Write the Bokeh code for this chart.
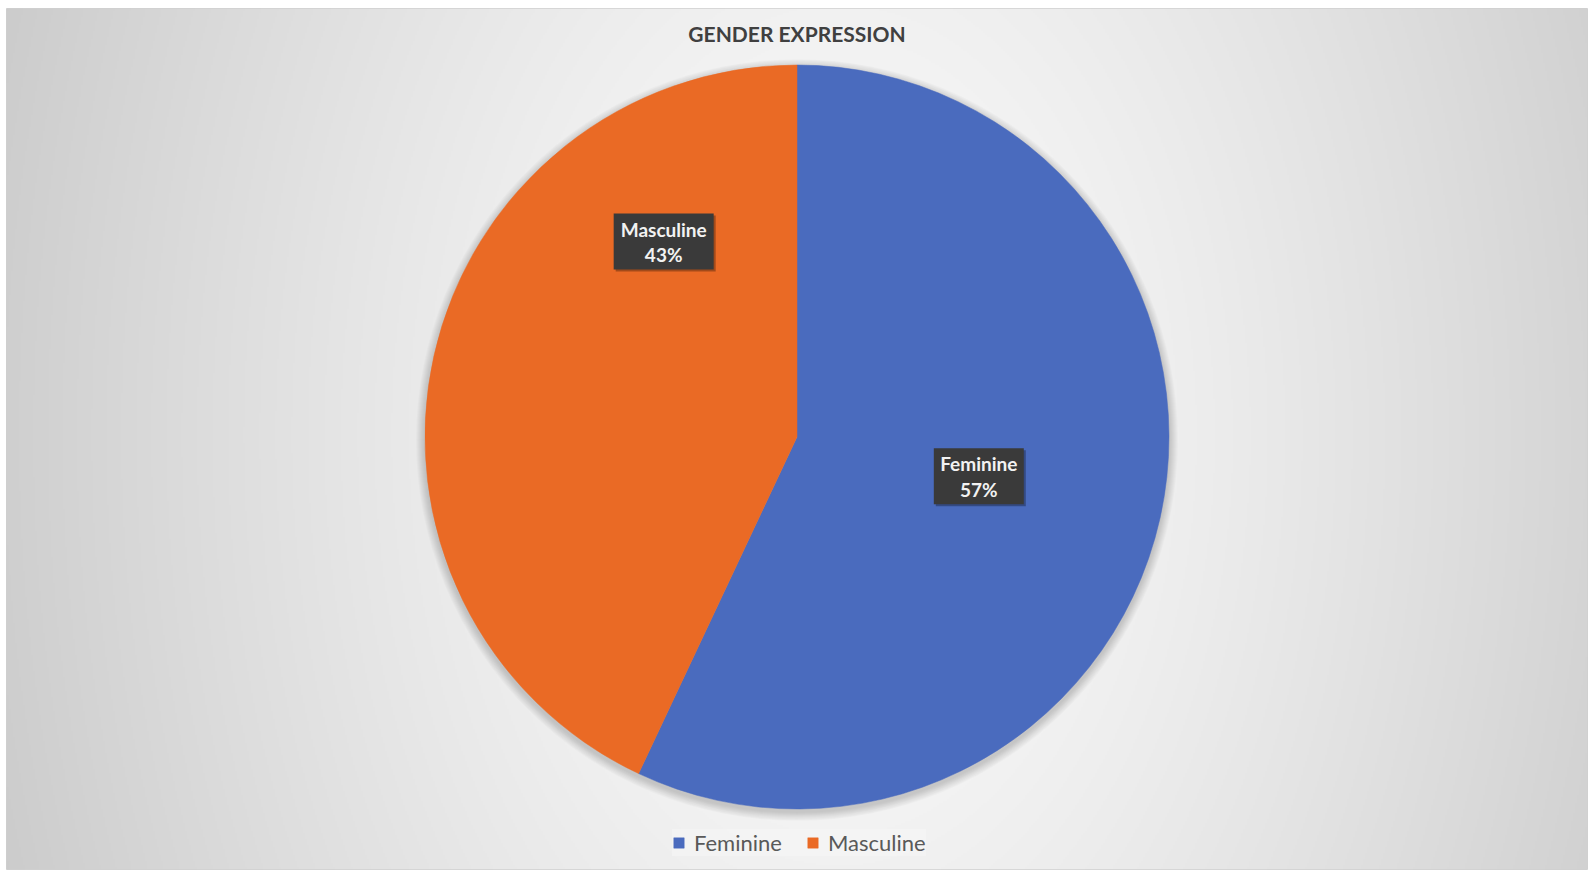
import numpy as np
from bokeh.plotting import figure
from bokeh.models import Range1d, ColumnDataSource, Legend, LegendItem
from bokeh.core.properties import value
from bokeh.embed import file_html
from bokeh.resources import INLINE

# ---------------- data ----------------
title_text = "GENDER EXPRESSION"
categories = ["Feminine", "Masculine"]
percent = [57, 43]
colors = ["#4A6BBE", "#EA6A25"]

# ---------------- layout (pixels) ----------------
FIG_W, FIG_H = 1592, 876
B_LEFT, B_RIGHT, B_TOP, B_BOTTOM = 6, 5, 8, 7
W = FIG_W - B_LEFT - B_RIGHT
H = FIG_H - B_TOP - B_BOTTOM
CX, CY, R = 790.5, 432.5, 372
# label placement: (clockwise angle from top in degrees, fraction of radius)
label_place = [(102.2, 0.50), (325.7, 0.636)]
FONT = "Lato"

p = figure(width=FIG_W, height=FIG_H, output_backend="svg", toolbar_location=None,
           x_range=Range1d(0, W), y_range=Range1d(0, H),
           min_border_left=B_LEFT, min_border_right=B_RIGHT,
           min_border_top=B_TOP, min_border_bottom=B_BOTTOM,
           outline_line_color="#d0d0d0")
p.axis.visible = False
p.grid.visible = False
p.background_fill_color = "#ececec"
p.border_fill_color = "white"

# radial background gradient
gh, gw = H // 2, W // 2
yy, xx = np.mgrid[0:gh, 0:gw]
gx = (xx * 2 - (CX + 40)) / (W / 2)
gy = (yy * 2 - CY) / (H * 1.4)
rr = np.sqrt(gx ** 2 + gy ** 2)
lev = np.clip(252 - 42 * rr ** 1.3, 0, 255).astype(np.uint32)
img = (255 << 24) | (lev << 16) | (lev << 8) | lev
p.image_rgba(image=[img.astype(np.uint32)], x=0, y=0, dw=W, dh=H)

# soft shadow around the pie
for k in range(1, 10):
    p.circle(x=CX, y=CY - 3, radius=R + k, fill_color="black", fill_alpha=0.02,
             line_color=None)

# wedges from data
total = float(sum(percent))
frac = [v / total for v in percent]
cum = np.concatenate([[0.0], np.cumsum(frac)])
start = [np.pi / 2 - 2 * np.pi * cum[i] for i in range(len(frac))]
end = [np.pi / 2 - 2 * np.pi * cum[i + 1] for i in range(len(frac))]
src = ColumnDataSource(dict(cat=categories, start=start, end=end, color=colors))
wr = p.wedge(x=CX, y=CY, radius=R, start_angle="start", end_angle="end",
             direction="clock", fill_color="color", line_color="color",
             line_width=0.5, source=src)

# data labels
lx, ly, bw, pct_txt = [], [], [], []
for (ang, f), c, v in zip(label_place, categories, percent):
    a = np.deg2rad(ang)
    lx.append(CX + f * R * np.sin(a))
    ly.append(CY + f * R * np.cos(a))
    bw.append(10 * len(c) + 10)
    pct_txt.append(f"{v}%")
lsrc = ColumnDataSource(dict(x=lx, y=ly, w=bw, name=categories, pct=pct_txt,
                             y1=[v + 12.5 for v in ly], y2=[v - 13 for v in ly],
                             xs=[v + 2 for v in lx], ys=[v - 2 for v in ly]))
p.rect(x="xs", y="ys", width="w", height=56, fill_color="black", fill_alpha=0.3,
       line_color=None, source=lsrc)
p.rect(x="x", y="y", width="w", height=56, fill_color="#3A3A3A", line_color=None,
       source=lsrc)
p.text(x="x", y="y1", text="name", text_align="center", text_baseline="middle",
       text_font=value(FONT), text_font_style="bold", text_font_size="19px",
       text_color="#F2F2F2", source=lsrc)
p.text(x="x", y="y2", text="pct", text_align="center", text_baseline="middle",
       text_font=value(FONT), text_font_style="bold", text_font_size="19px",
       text_color="#F2F2F2", source=lsrc)

# title
p.text(x=[CX], y=[H - 24.5], text=[title_text], text_align="center",
       text_baseline="middle", text_font=value(FONT), text_font_style="bold",
       text_font_size="21px", text_color="#404040")

# legend
items = [LegendItem(label=c, renderers=[wr], index=i) for i, c in enumerate(categories)]
legend = Legend(items=items, orientation="horizontal", location=(666, 13),
                glyph_width=13, glyph_height=13, label_standoff=9, spacing=24,
                padding=6, margin=0, label_text_font=FONT,
                label_text_font_size="22px", label_text_color="#595959",
                background_fill_color="#f4f4f4", background_fill_alpha=0.75,
                border_line_color=None)
p.add_layout(legend, "center")

open("out.html", "w").write(file_html(p, INLINE))
